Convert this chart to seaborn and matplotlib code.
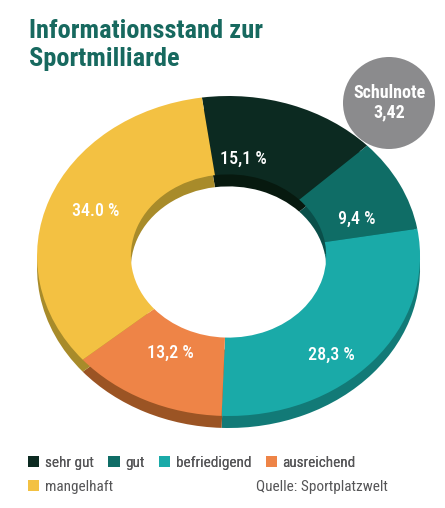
import numpy as np
import matplotlib
matplotlib.use("Agg")
import matplotlib.pyplot as plt
from matplotlib.patches import Patch, Circle
import seaborn as sns

# Data
categories = ["sehr gut", "gut", "befriedigend", "ausreichend", "mangelhaft"]
values = [15.1, 9.4, 28.3, 13.2, 34.0]
value_labels = ["15,1 %", "9,4 %", "28,3 %", "13,2 %", "34.0 %"]
top_colors = ["#0c2a21", "#0f6d66", "#1aaaa8", "#ee8447", "#f3c142"]
side_colors = ["#07190f", "#0a4f4a", "#127a77", "#9b5424", "#a88b2a"]
grade = "3,42"

sns.set_theme(style="white")
plt.rcParams["font.family"] = ["Roboto Condensed", "DejaVu Sans"]

fig = plt.figure(figsize=(4.45, 5.08), dpi=100)
ax = fig.add_axes([17.9 / 445, 68 / 508, 421.3 / 445, 360 / 508])

thick = 0.075
ring = 0.49
px_x, px_y = 191.5, 160.0  # pixels per data unit

# side of the ring (shifted copy underneath)
ax.pie(values, startangle=98, counterclock=False, colors=side_colors,
       radius=1, center=(0, -thick),
       wedgeprops=dict(width=ring, edgecolor="none"))
# top surface
wedges, texts, autotexts = ax.pie(
    values, startangle=98, counterclock=False, colors=top_colors,
    radius=1, autopct="%1.1f", pctdistance=0.73,
    wedgeprops=dict(width=ring, edgecolor="none"))

# small pixel nudges so labels sit like in the print
nudges = [(-31, 13), (3, 15), (-2, 22), (3, -8), (-2, -4)]
for t, lab, (dx, dy) in zip(autotexts, value_labels, nudges):
    x, y = t.get_position()
    t.set_position((x + dx / px_x, y - dy / px_y))
    t.set_text(lab)
    t.set_color("white")
    t.set_fontsize(13)
    t.set_fontweight("medium")

ax.set_aspect("auto")
ax.set_xlim(-1.1, 1.1)
ax.set_ylim(-1.15, 1.1)
ax.axis("off")

# title
fig.text(29 / 445, 1 - 19 / 508, "Informationsstand zur\nSportmilliarde",
         ha="left", va="top", fontsize=19, fontweight="bold",
         color="#17695f", linespacing=1.2)

# grade badge
fig.add_artist(Circle((3.89, 4.05), 0.46, transform=fig.dpi_scale_trans,
                      facecolor="#8b8b8d", edgecolor="none"))
fig.text(389 / 445, 1 - 103 / 508, "Schulnote\n" + grade, ha="center",
         va="center", fontsize=13, fontweight="bold", color="white",
         linespacing=1.1)

# legend: first row four entries, second row one entry
handles = [Patch(facecolor=c, edgecolor="none", label=l)
           for c, l in zip(top_colors, categories)]
leg_kw = dict(loc="center left", frameon=False, fontsize=11,
              handlelength=0.75, handleheight=0.75, handletextpad=0.35,
              columnspacing=0.95, labelcolor="#555557", borderaxespad=0,
              borderpad=0)
leg1 = fig.legend(handles[:4], categories[:4], ncol=4,
                  bbox_to_anchor=(28 / 445, 1 - 463 / 508), **leg_kw)
fig.legend(handles[4:], categories[4:], ncol=1,
           bbox_to_anchor=(28 / 445, 1 - 487 / 508), **leg_kw)
fig.add_artist(leg1)

fig.text(388 / 445, 1 - 487 / 508, "Quelle: Sportplatzwelt", ha="right",
         va="center", fontsize=11, color="#555557")

fig.savefig("out.png", dpi=100)
